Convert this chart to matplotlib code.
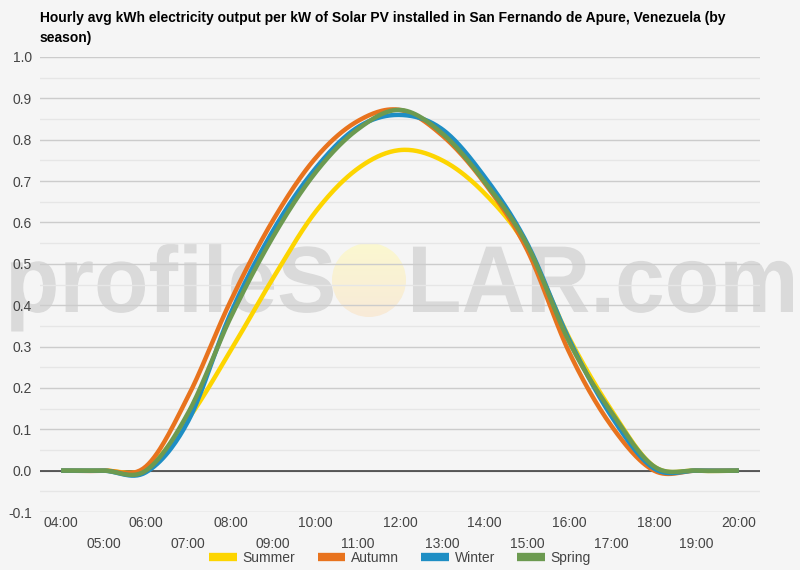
import numpy as np
import matplotlib
matplotlib.use("Agg")
import matplotlib.pyplot as plt
from matplotlib.textpath import TextPath
from matplotlib.font_manager import FontProperties
from matplotlib.patches import PathPatch, Circle
from matplotlib.transforms import Affine2D
from matplotlib.lines import Line2D
from matplotlib.colors import LinearSegmentedColormap

plt.rcParams['font.family'] = ['Liberation Sans', 'DejaVu Sans']

hours = ["04:00", "05:00", "06:00", "07:00", "08:00", "09:00", "10:00", "11:00",
         "12:00", "13:00", "14:00", "15:00", "16:00", "17:00", "18:00", "19:00", "20:00"]
series_names = ["Summer", "Autumn", "Winter", "Spring"]
summer = [0, 0, 0.005, 0.125, 0.29, 0.465, 0.625, 0.73, 0.775, 0.75, 0.67, 0.54, 0.32, 0.145, 0.01, 0, 0]
autumn = [0, 0, 0.01, 0.18, 0.41, 0.605, 0.755, 0.845, 0.872, 0.81, 0.695, 0.534, 0.285, 0.107, 0.0, 0, 0]
winter = [0, 0, -0.004, 0.12, 0.38, 0.58, 0.73, 0.83, 0.86, 0.825, 0.71, 0.55, 0.316, 0.13, 0.005, 0, 0]
spring = [0, 0, 0.0, 0.14, 0.37, 0.565, 0.72, 0.825, 0.872, 0.815, 0.698, 0.546, 0.31, 0.14, 0.01, 0, 0]
colors = ["#fdd500", "#e8731e", "#1e8ec4", "#6c9a50"]
title_lines = ["Hourly avg kWh electricity output per kW of Solar PV installed in San Fernando de Apure, Venezuela (by",
               "season)"]


def smooth(y, n=30):
    y = np.asarray(y, dtype=float)
    x = np.arange(len(y), dtype=float)
    m = np.zeros_like(y)
    m[1:-1] = (y[2:] - y[:-2]) / 2.0
    xs, ys = [], []
    for i in range(len(y) - 1):
        t = np.linspace(0, 1, n, endpoint=(i == len(y) - 2))
        h00 = 2 * t**3 - 3 * t**2 + 1
        h10 = t**3 - 2 * t**2 + t
        h01 = -2 * t**3 + 3 * t**2
        h11 = t**3 - t**2
        ys.append(h00 * y[i] + h10 * m[i] + h01 * y[i + 1] + h11 * m[i + 1])
        xs.append(x[i] + t)
    return np.concatenate(xs), np.concatenate(ys)


fig = plt.figure(figsize=(8, 5.7), dpi=100, facecolor="#f5f5f5")

# watermark background
bg = fig.add_axes([0, 0, 1, 1], zorder=0)
bg.set_xlim(0, 800)
bg.set_ylim(570, 0)
bg.axis("off")
fp = FontProperties(family="Liberation Sans", weight="bold")


def wm_text(s, x0, x1, baseline, em):
    tp = TextPath((0, 0), s, size=1, prop=fp)
    v = tp.vertices
    xmin, xmax = v[:, 0].min(), v[:, 0].max()
    sx = (x1 - x0) / (xmax - xmin)
    tr = Affine2D().translate(-xmin, 0).scale(sx, -em).translate(x0, baseline)
    p = tr.transform_path(tp)
    bg.add_patch(PathPatch(p, facecolor="#dadada", edgecolor="none"))


wm_text("profileS", 5, 333, 312, 94)
wm_text("LAR.com", 407, 793, 312, 95)
circ = Circle((369, 280), 37, transform=bg.transData, facecolor="none", edgecolor="none")
bg.add_patch(circ)
grad = np.linspace(0, 1, 100)[:, None]
cm = LinearSegmentedColormap.from_list("wm", ["#fbf8d0", "#f8ead8"])
im = bg.imshow(grad, cmap=cm, extent=[332, 406, 317, 243], aspect="auto", zorder=1)
im.set_clip_path(circ)
bg.set_xlim(0, 800)
bg.set_ylim(570, 0)

# main axes
ax = fig.add_axes([40 / 800, 1 - 512 / 570, 720 / 800, (512 - 57) / 570], zorder=1)
ax.patch.set_alpha(0)
for s in ax.spines.values():
    s.set_visible(False)

x_idx = np.arange(len(hours))
for name, vals, c in zip(series_names, [summer, autumn, winter, spring], colors):
    xs, ys = smooth(vals)
    ax.plot(xs, ys, color=c, lw=3.2, solid_capstyle="butt", zorder=3, label=name)

ax.set_xlim(-0.5, len(hours) - 0.5)
ax.set_ylim(-0.1, 1.0)
yt = np.round(np.arange(-0.1, 1.01, 0.1), 1)
ax.set_yticks(yt)
ax.set_yticklabels([f"{v:.1f}" for v in yt])
ax.set_yticks(np.round(np.arange(-0.05, 1.0, 0.1), 2), minor=True)
ax.grid(axis="y", which="major", color="#cccccc", lw=1, zorder=1)
ax.grid(axis="y", which="minor", color="#e6e6e6", lw=1, zorder=1)
ax.axhline(0, color="#333333", lw=1.1, zorder=2)

ax.set_xticks(x_idx[::2])
ax.set_xticklabels(hours[::2])
ax.set_xticks(x_idx[1::2], minor=True)
ax.set_xticklabels(hours[1::2], minor=True)
ax.tick_params(axis="x", which="major", length=0, pad=3, labelsize=10, labelcolor="#444444")
ax.tick_params(axis="x", which="minor", length=0, pad=18, labelsize=10, labelcolor="#444444")
ax.tick_params(axis="y", which="both", length=0, pad=6, labelsize=10, labelcolor="#444444")

fig.text(40 / 800, 1 - 18 / 570, title_lines[0], fontsize=10, fontweight="bold", color="#000000", va="center", ha="left")
fig.text(40 / 800, 1 - 38 / 570, title_lines[1], fontsize=10, fontweight="bold", color="#000000", va="center", ha="left")

handles = [Line2D([0], [0], color=c, lw=6, solid_capstyle="butt") for c in colors]
fig.legend(handles, series_names, loc="center", bbox_to_anchor=(0.5, 1 - 558 / 570), ncol=4, frameon=False,
           fontsize=10, handlelength=2.0, handletextpad=0.4, columnspacing=1.6, labelcolor="#444444")

fig.savefig("out.png", dpi=100, facecolor=fig.get_facecolor())
